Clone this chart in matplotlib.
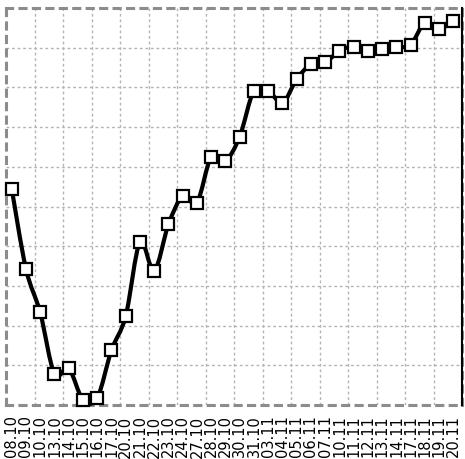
import numpy as np
import matplotlib
matplotlib.use("Agg")
import matplotlib.pyplot as plt
from matplotlib.path import Path
from matplotlib.patches import PathPatch

dates = ["08.10", "09.10", "10.10", "13.10", "14.10", "15.10", "16.10", "17.10",
         "20.10", "21.10", "22.10", "23.10", "24.10", "27.10", "28.10", "29.10",
         "30.10", "31.10", "03.11", "04.11", "05.11", "06.11", "07.11", "10.11",
         "11.11", "12.11", "13.11", "14.11", "17.11", "18.11", "19.11", "20.11"]
values = [5.45, 3.43, 2.33, 0.78, 0.92, 0.13, 0.18, 1.38,
          2.24, 4.10, 3.38, 4.55, 5.26, 5.10, 6.25, 6.15,
          6.76, 7.92, 7.92, 7.61, 8.21, 8.58, 8.63, 8.92,
          9.03, 8.92, 8.97, 9.01, 9.08, 9.63, 9.47, 9.68]

W, H = 465, 459
fig = plt.figure(figsize=(W / 100, H / 100), dpi=100)
ax = fig.add_axes([6 / W, 54 / H, 456 / W, 397 / H])

x = np.arange(len(dates), dtype=float)
y = np.array(values, dtype=float)
pts = np.column_stack([x, y])
n = len(pts)

# smooth (Catmull-Rom -> cubic Bezier) line through the data points
verts = [tuple(pts[0])]
codes = [Path.MOVETO]
for i in range(n - 1):
    p0 = pts[max(i - 1, 0)]
    p1 = pts[i]
    p2 = pts[i + 1]
    p3 = pts[min(i + 2, n - 1)]
    c1 = p1 + (p2 - p0) / 6.0
    c2 = p2 - (p3 - p1) / 6.0
    verts += [tuple(c1), tuple(c2), tuple(p2)]
    codes += [Path.CURVE4] * 3
ax.add_patch(PathPatch(Path(verts, codes), fill=False, lw=3.0, edgecolor="black",
                       capstyle="round", joinstyle="round", zorder=3, clip_on=False))
ax.plot(x, y, ls="none", marker="s", ms=9, mfc="white", mec="black", mew=1.6,
        zorder=4, clip_on=False)

xmin, xmax = -0.4, 31.6
ax.set_xlim(xmin, xmax)
ax.set_ylim(0, 10)

ax.set_xticks(x)
ax.set_xticklabels(dates, rotation=90, fontsize=10.5, family="DejaVu Sans")
ax.set_xticks(np.linspace(xmin, xmax, 17)[1:-1], minor=True)
ax.set_yticks(np.arange(1, 10), minor=True)
ax.set_yticks([])
ax.tick_params(axis="x", which="both", length=0, pad=7.5)
ax.tick_params(axis="y", which="both", length=0, labelleft=False)

ax.grid(False)
ax.grid(which="minor", color="#b4b4b4", linestyle=(0, (2, 2)), linewidth=1.0, zorder=1)
ax.set_axisbelow(True)

for side in ["left", "top", "bottom", "right"]:
    sp = ax.spines[side]
    sp.set_color("#8c8c8c")
    sp.set_linewidth(2.2)
    sp.set_linestyle((0, (2.0, 2.4)))
ax.plot([1, 1], [0, 1], transform=ax.transAxes, color="black", lw=1.5,
        clip_on=False, zorder=5)

fig.savefig("out.png", dpi=100)
